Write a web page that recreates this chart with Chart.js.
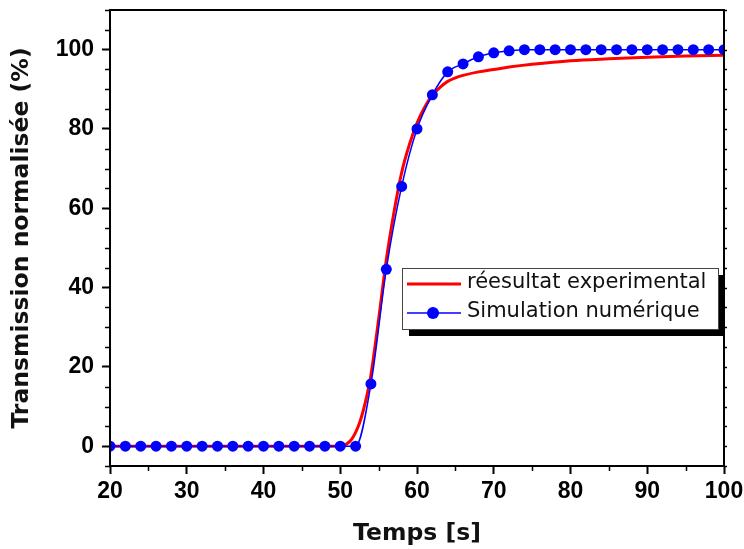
<!DOCTYPE html>
<html>
<head>
<meta charset="utf-8">
<script src="https://cdn.jsdelivr.net/npm/chart.js@4.4.1/dist/chart.umd.min.js"></script>
<style>
  html, body { margin: 0; padding: 0; background: #fff; }
  #wrap { width: 744px; height: 549px; }
</style>
</head>
<body>
<div id="wrap"><canvas id="trans-chart" width="744" height="549"></canvas></div>
<script>
// data
var simTime = [20, 22, 24, 26, 28, 30, 32, 34, 36, 38, 40, 42, 44, 46, 48, 50, 52,
               54, 56, 58, 60, 62, 64, 66, 68, 70, 72, 74, 76, 78, 80, 82, 84, 86,
               88, 90, 92, 94, 96, 98, 100];
var simValue = [0, 0, 0, 0, 0, 0, 0, 0, 0, 0, 0, 0, 0, 0, 0, 0, 0,
                15.7, 44.6, 65.5, 80.0, 88.6, 94.4, 96.4, 98.2, 99.2, 99.7, 100, 100, 100,
                100, 100, 100, 100, 100, 100, 100, 100, 100, 100, 100];

var expTime = [20, 30, 40, 48, 50, 50.5, 51, 51.5, 52, 52.5, 53, 53.5, 54, 55, 56, 57,
               58, 59, 60, 61, 62, 63, 64, 65, 66, 68, 70, 72, 75, 80, 85, 90, 95, 100];
var expValue = [0, 0, 0, 0, 0, 0.2, 0.8, 1.8, 3.5, 5.8, 9, 13, 18, 32, 47, 59,
                69, 76, 81.5, 85.5, 88.5, 90.5, 92, 92.9, 93.5, 94.4, 95, 95.6, 96.3, 97.2, 97.7, 98.1, 98.4, 98.6];

var xTicks = [20, 30, 40, 50, 60, 70, 80, 90, 100];
var yTicks = [0, 20, 40, 60, 80, 100];

var seriesNames = ["réesultat experimental", "Simulation numérique"];

function pairs(xs, ys) {
    return xs.map(function (x, i) { return {x: x, y: ys[i]}; });
}

// frame, minor ticks and the boxed legend with its drop shadow
var decorPlugin = {
    id: 'decor',
    afterDraw: function (chart) {
        var ctx = chart.ctx;
        var a = chart.chartArea;
        var xs = chart.scales.x, ys = chart.scales.y;
        ctx.save();
        ctx.strokeStyle = '#000';
        ctx.lineWidth = 2;
        ctx.strokeRect(a.left, a.top, a.right - a.left, a.bottom - a.top);

        ctx.lineWidth = 1.5;
        ctx.beginPath();
        var v, p;
        for (v = 25; v < 100; v += 10) {
            p = Math.round(xs.getPixelForValue(v)) + 0.5;
            ctx.moveTo(p, a.bottom); ctx.lineTo(p, a.bottom + 5);
        }
        for (v = -5; v <= 110; v += 5) {
            p = Math.round(ys.getPixelForValue(v)) + 0.5;
            if (v % 20 !== 0) {
                ctx.moveTo(a.left, p); ctx.lineTo(a.left - 5, p);
            }
            ctx.moveTo(a.right, p); ctx.lineTo(a.right + 3, p);
        }
        ctx.stroke();

        // legend
        var lx = 402, ly = 268, lw = 316, lh = 61;
        ctx.fillStyle = '#000';
        ctx.fillRect(lx + 7, ly + 7, lw, lh);
        ctx.fillStyle = '#fff';
        ctx.fillRect(lx, ly, lw, lh);
        ctx.strokeStyle = '#444';
        ctx.lineWidth = 1;
        ctx.strokeRect(lx + 0.5, ly + 0.5, lw, lh);

        var ds = chart.data.datasets;
        ctx.strokeStyle = ds[0].borderColor;
        ctx.lineWidth = 3;
        ctx.beginPath(); ctx.moveTo(407, 284); ctx.lineTo(461, 284); ctx.stroke();
        ctx.strokeStyle = ds[1].borderColor;
        ctx.lineWidth = 1.5;
        ctx.beginPath(); ctx.moveTo(407, 313); ctx.lineTo(461, 313); ctx.stroke();
        ctx.fillStyle = ds[1].borderColor;
        ctx.beginPath(); ctx.arc(433, 313, 6, 0, Math.PI * 2); ctx.fill();

        ctx.fillStyle = '#111';
        ctx.font = '21px "DejaVu Sans"';
        ctx.textBaseline = 'middle';
        ctx.textAlign = 'left';
        ctx.fillText(ds[0].label, 467, 283);
        ctx.fillText(ds[1].label, 467, 312);
        ctx.restore();
    }
};

var tickFont = {family: '"Liberation Sans", Arial, sans-serif', size: 23, weight: 'bold'};
var titleFont = {family: '"DejaVu Sans", Verdana, sans-serif', size: 23.5, weight: 'bold'};

new Chart(document.getElementById('trans-chart'), {
    type: 'line',
    data: {
        datasets: [
            {
                label: seriesNames[0],
                data: pairs(expTime, expValue),
                borderColor: '#ff0000',
                borderWidth: 3,
                pointRadius: 0,
                cubicInterpolationMode: 'monotone',
                fill: false,
                order: 2
            },
            {
                label: seriesNames[1],
                data: pairs(simTime, simValue),
                borderColor: '#0000ff',
                backgroundColor: '#0000ff',
                borderWidth: 1.5,
                pointRadius: 5.5,
                pointBorderWidth: 0,
                pointBackgroundColor: '#0000ff',
                cubicInterpolationMode: 'monotone',
                fill: false,
                order: 1
            }
        ]
    },
    options: {
        responsive: false,
        animation: false,
        devicePixelRatio: 1,
        layout: {padding: {top: 10, right: 20, left: 0, bottom: 0}},
        plugins: {legend: {display: false}, tooltip: {enabled: false}},
        scales: {
            x: {
                type: 'linear',
                min: 20,
                max: 100,
                afterBuildTicks: function (s) { s.ticks = xTicks.map(function (v) { return {value: v}; }); },
                afterFit: function (s) { s.height = 83; s.paddingLeft = 0; s.paddingRight = 0; },
                border: {display: false},
                grid: {drawOnChartArea: false, drawTicks: true, tickLength: 8, tickWidth: 2, tickColor: '#000'},
                ticks: {font: tickFont, color: '#000', padding: 4, maxRotation: 0},
                title: {display: true, text: 'Temps [s]', font: titleFont, color: '#111', padding: {top: 0, bottom: 1}}
            },
            y: {
                min: -5,
                max: 110,
                afterBuildTicks: function (s) { s.ticks = yTicks.map(function (v) { return {value: v}; }); },
                afterFit: function (s) { s.width = 110; s.paddingTop = 0; s.paddingBottom = 0; },
                border: {display: false},
                grid: {drawOnChartArea: false, drawTicks: true, tickLength: 8, tickWidth: 2, tickColor: '#000'},
                ticks: {font: tickFont, color: '#000', padding: 8},
                title: {display: true, text: 'Transmission normalisée (%)', font: titleFont, color: '#111', padding: {top: 8, bottom: 0}}
            }
        }
    },
    plugins: [decorPlugin]
});
</script>
</body>
</html>
